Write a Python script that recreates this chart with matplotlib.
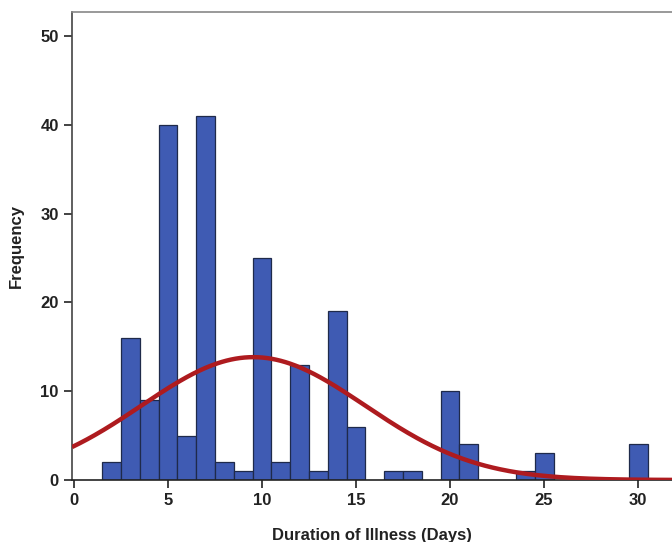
import numpy as np
import matplotlib.pyplot as plt

# days of illness and number of patients per day
days = [2, 3, 4, 5, 6, 7, 8, 9, 10, 11, 12, 13, 14, 15, 17, 18, 20, 21, 24, 25, 30]
counts = [2, 16, 9, 40, 5, 41, 2, 1, 25, 2, 13, 1, 19, 6, 1, 1, 10, 4, 1, 3, 4]

plt.rcParams['font.family'] = ['Liberation Sans', 'DejaVu Sans']

fig = plt.figure(figsize=(6.72, 5.42), dpi=100)
ax = fig.add_axes([72 / 672, 1 - 480 / 542, 600 / 672, 468 / 542])

ax.bar(days, counts, width=1.0, color='#3F5BB3', edgecolor='#1F2A4A',
       linewidth=0.9, zorder=2)

# normal curve fitted to the data (like SPSS)
d = np.array(days, dtype=float)
c = np.array(counts, dtype=float)
n = c.sum()
mean = (d * c).sum() / n
sd = np.sqrt((c * (d - mean) ** 2).sum() / (n - 1))
xs = np.linspace(-0.1, 32, 400)
ys = n / (sd * np.sqrt(2 * np.pi)) * np.exp(-0.5 * ((xs - mean) / sd) ** 2)
ax.plot(xs, ys, color='#AE1B1F', linewidth=3.2, zorder=3, solid_capstyle='butt')

ax.set_xlim(-0.1, 31.8)
ax.set_ylim(0, 52.7)
ax.set_xticks([0, 5, 10, 15, 20, 25, 30])
ax.set_yticks([0, 10, 20, 30, 40, 50])
ax.tick_params(axis='both', direction='out', labelsize=12, colors='#222222',
               length=6, width=1.2)
for lab in ax.get_xticklabels() + ax.get_yticklabels():
    lab.set_fontweight('bold')

ax.spines['right'].set_visible(False)
ax.spines['top'].set_color('#888888')
ax.spines['left'].set_color('#444444')
ax.spines['bottom'].set_color('#222222')
for s in ('top', 'left', 'bottom'):
    ax.spines[s].set_linewidth(1.2)

ax.set_xlabel('Duration of Illness (Days)', fontsize=12, fontweight='bold',
              color='#222222', labelpad=14)
ax.set_ylabel('Frequency', fontsize=12, fontweight='bold', color='#222222',
              labelpad=12)

fig.savefig('out.png', dpi=100)
